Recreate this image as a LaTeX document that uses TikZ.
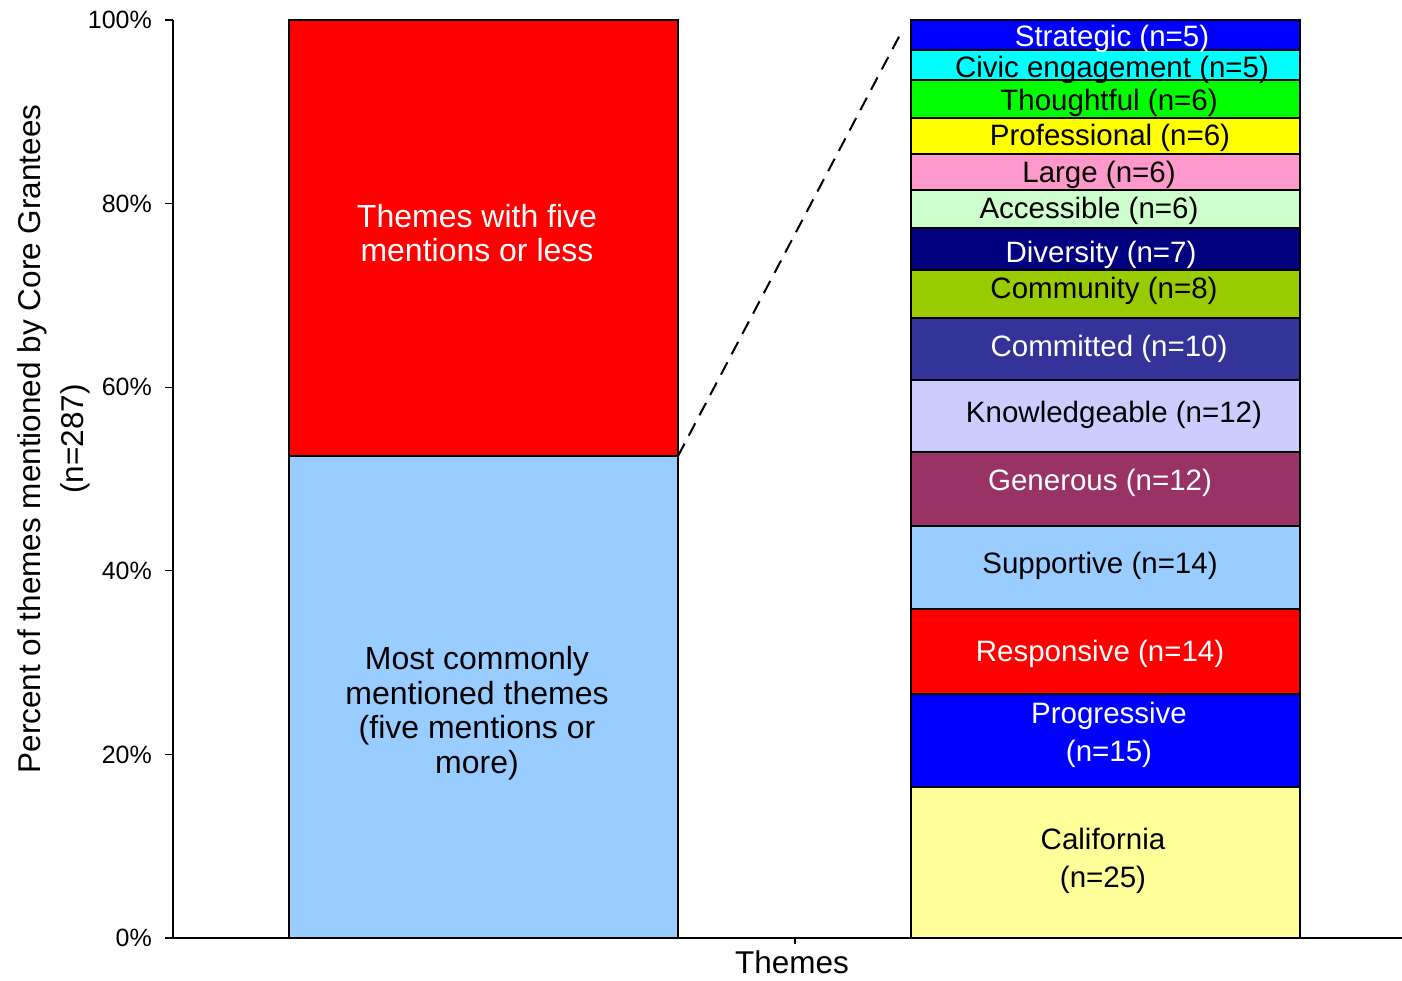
\documentclass[tikz,border=0pt]{standalone}
\usepackage{fontspec}
\setmainfont{Liberation Sans}
\definecolor{cStrat}{HTML}{0000FF}
\definecolor{cCivic}{HTML}{00FFFF}
\definecolor{cThought}{HTML}{00FF00}
\definecolor{cProf}{HTML}{FFFF00}
\definecolor{cLarge}{HTML}{FF99CC}
\definecolor{cAccess}{HTML}{CCFFCC}
\definecolor{cDiv}{HTML}{000080}
\definecolor{cComm}{HTML}{99CC00}
\definecolor{cCommit}{HTML}{333399}
\definecolor{cKnow}{HTML}{CCCCFF}
\definecolor{cGen}{HTML}{993366}
\definecolor{cSupp}{HTML}{99CCFF}
\definecolor{cResp}{HTML}{FF0000}
\definecolor{cProg}{HTML}{0000FF}
\definecolor{cCal}{HTML}{FFFF99}
\definecolor{cRed}{HTML}{FF0000}
\definecolor{cLBlue}{HTML}{99CCFF}
\tikzset{
  segbox/.style={draw=black, line width=1.5pt},
  lbl/.style={inner sep=0pt, font=\fontsize{29.5}{38}\selectfont, align=center},
  biglbl/.style={inner sep=0pt, font=\fontsize{32}{34.5}\selectfont, align=center},
  ticklbl/.style={inner sep=0pt, anchor=east, font=\fontsize{25}{28}\selectfont},
  axline/.style={line width=1.8pt},
}
\begin{document}
\begin{tikzpicture}[x=1pt,y=-1pt]
\useasboundingbox (0,0) rectangle (1402,980);
\fill[white] (0,0) rectangle (1402,980);
% left bar
\draw[segbox, fill=cLBlue] (289,456) rectangle (678,938);
\draw[segbox, fill=cRed] (289,20) rectangle (678,456);
\node[biglbl, text=white] (ltop) at (477,233) {Themes with five\\mentions or less};
\node[biglbl] (lbot) at (477,713) {Most commonly\\mentioned themes\\(five mentions or\\more)};
% right bar
\draw[segbox, fill=cCal] (911,787) rectangle (1300,938);
\draw[segbox, fill=cProg] (911,694) rectangle (1300,787);
\draw[segbox, fill=cResp] (911,609) rectangle (1300,694);
\draw[segbox, fill=cSupp] (911,526) rectangle (1300,609);
\draw[segbox, fill=cGen] (911,452) rectangle (1300,526);
\draw[segbox, fill=cKnow] (911,380) rectangle (1300,452);
\draw[segbox, fill=cCommit] (911,318) rectangle (1300,380);
\draw[segbox, fill=cComm] (911,270) rectangle (1300,318);
\draw[segbox, fill=cDiv] (911,228) rectangle (1300,270);
\draw[segbox, fill=cAccess] (911,190) rectangle (1300,228);
\draw[segbox, fill=cLarge] (911,154) rectangle (1300,190);
\draw[segbox, fill=cProf] (911,118) rectangle (1300,154);
\draw[segbox, fill=cThought] (911,80) rectangle (1300,118);
\draw[segbox, fill=cCivic] (911,50) rectangle (1300,80);
\draw[segbox, fill=cStrat] (911,20) rectangle (1300,50);
\node[lbl, text=white] (sStrat) at (1112,39) {Strategic (n=5)};
\node[lbl] (sCivic) at (1112,70) {Civic engagement (n=5)};
\node[lbl] (sThought) at (1109,103) {Thoughtful (n=6)};
\node[lbl] (sProf) at (1110,138) {Professional (n=6)};
\node[lbl] (sLarge) at (1099,175) {Large (n=6)};
\node[lbl] (sAccess) at (1089,211) {Accessible (n=6)};
\node[lbl, text=white] (sDiv) at (1101,255) {Diversity (n=7)};
\node[lbl] (sComm) at (1104,291) {Community (n=8)};
\node[lbl, text=white] (sCommit) at (1109,349) {Committed (n=10)};
\node[lbl] (sKnow) at (1114,415) {Knowledgeable (n=12)};
\node[lbl, text=white] (sGen) at (1100,483) {Generous (n=12)};
\node[lbl] (sSupp) at (1100,566) {Supportive (n=14)};
\node[lbl, text=white] (sResp) at (1100,654) {Responsive (n=14)};
\node[lbl, text=white] (sProg) at (1109,735) {Progressive\\(n=15)};
\node[lbl] (sCal) at (1103,861) {California\\(n=25)};
% dashed connector
\coordinate (lsplit) at (678,456);
\coordinate (rtop) at (902,31);
\draw[line width=2pt, dash pattern=on 14pt off 9pt] (lsplit) -- (rtop);
% axes
\draw[axline] (173,20) -- (173,938);
\draw[axline] (173,938) -- (1402,938);
\foreach \p/\y in {0/938,20/754.4,40/570.8,60/387.2,80/203.6,100/20}{
  \draw[line width=1.2pt] (165,\y) -- (173,\y);
  \node[ticklbl] (t\p) at (152,\y) {\p\%};
}
\draw[line width=1.2pt] (795,938) -- (795,944);
\node[inner sep=0pt, font=\fontsize{31.5}{34}\selectfont] (xlab) at (792,962) {Themes};
\node[inner sep=0pt, rotate=90, font=\fontsize{31.5}{34}\selectfont] (ylab1) at (32,439) {Percent of themes mentioned by Core Grantees};
\node[inner sep=0pt, rotate=90, font=\fontsize{31.5}{34}\selectfont] (ylab2) at (75,439) {(n=287)};
\end{tikzpicture}
\end{document}
